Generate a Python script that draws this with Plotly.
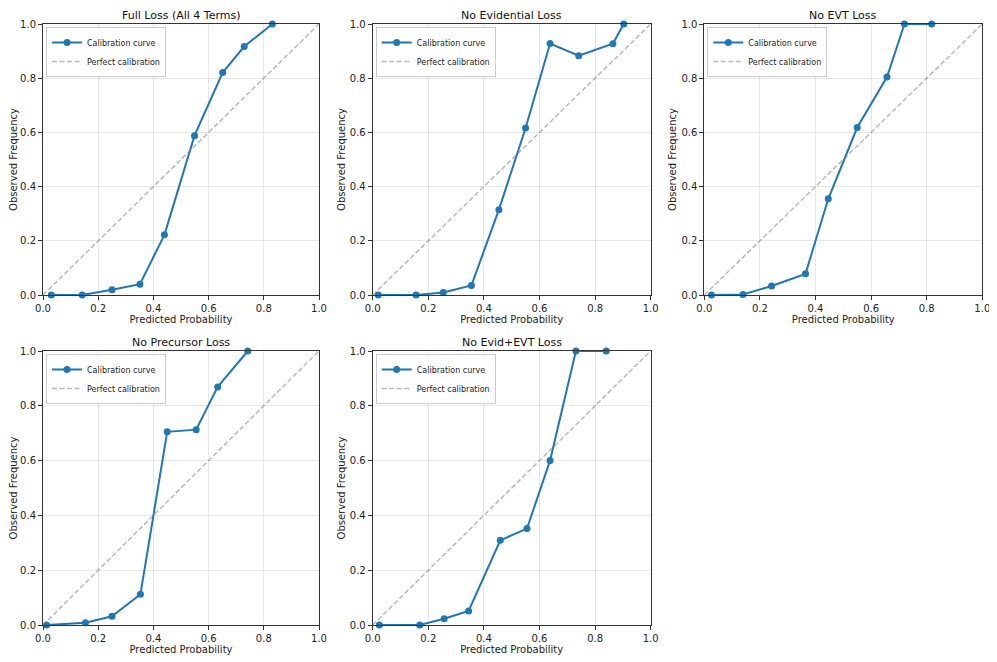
import plotly.graph_objects as go

titles = ["Full Loss (All 4 Terms)", "No Evidential Loss", "No EVT Loss",
          "No Precursor Loss", "No Evid+EVT Loss"]

full_x = [0.030, 0.142, 0.250, 0.351, 0.440, 0.549, 0.651, 0.729, 0.831]
full_y = [0.000, 0.000, 0.019, 0.040, 0.222, 0.588, 0.821, 0.917, 1.000]

noevid_x = [0.020, 0.156, 0.254, 0.355, 0.454, 0.550, 0.638, 0.741, 0.864, 0.903]
noevid_y = [0.000, 0.000, 0.009, 0.035, 0.315, 0.616, 0.928, 0.883, 0.927, 1.000]

noevt_x = [0.026, 0.139, 0.242, 0.364, 0.446, 0.550, 0.657, 0.720, 0.818]
noevt_y = [0.000, 0.002, 0.033, 0.078, 0.355, 0.618, 0.804, 1.000, 1.000]

noprec_x = [0.013, 0.154, 0.250, 0.353, 0.450, 0.555, 0.633, 0.742]
noprec_y = [0.000, 0.008, 0.032, 0.112, 0.705, 0.713, 0.869, 1.000]

noboth_x = [0.024, 0.169, 0.257, 0.345, 0.459, 0.555, 0.638, 0.731, 0.840]
noboth_y = [0.000, 0.000, 0.023, 0.051, 0.309, 0.352, 0.600, 1.000, 1.000]

series = [(full_x, full_y), (noevid_x, noevid_y), (noevt_x, noevt_y),
          (noprec_x, noprec_y), (noboth_x, noboth_y)]

perfect = [0.0, 1.0]
ticks = [0.0, 0.2, 0.4, 0.6, 0.8, 1.0]

# page body has an 8px margin; figure sized to the visible area
OFF = 8
W, H = 997 - OFF, 662 - OFF
def px_x(p):
    return (p - OFF) / W
def px_y(p):
    return 1 - (p - OFF) / H

xdoms = [(px_x(43), px_x(319)), (px_x(372.7), px_x(650.7)), (px_x(704.3), px_x(982.3))]
ydoms = [(px_y(295), px_y(24)), (px_y(625), px_y(351))]

BLUE = "#1f77b4"
FONT = "DejaVu Sans"
fig = go.Figure()
layout = dict(width=W, height=H, margin=dict(l=0, r=0, t=0, b=0, autoexpand=False),
              plot_bgcolor="white", paper_bgcolor="white",
              font=dict(family=FONT, size=10, color="#222"))
annotations = []

for i, (title, (xs, ys)) in enumerate(zip(titles, series)):
    r, c = divmod(i, 3)
    n = i + 1
    xa = "x" if n == 1 else f"x{n}"
    ya = "y" if n == 1 else f"y{n}"
    lg = "legend" if n == 1 else f"legend{n}"
    fig.add_trace(go.Scatter(x=xs, y=ys, mode="lines+markers", name="Calibration curve",
                             line=dict(color=BLUE, width=2), marker=dict(color=BLUE, size=7),
                             xaxis=xa, yaxis=ya, legend=lg, cliponaxis=False))
    fig.add_trace(go.Scatter(x=perfect, y=perfect, mode="lines", name="Perfect calibration",
                             line=dict(color="rgba(128,128,128,0.55)", width=1.5,
                                       dash="5px,2.5px"),
                             xaxis=xa, yaxis=ya, legend=lg))
    xd = xdoms[c]
    yd = ydoms[r]
    axcommon = dict(range=[0, 1], tickvals=ticks, tickformat=".1f", showline=True,
                    mirror=True, linecolor="#333", linewidth=1, ticks="outside",
                    ticklen=4, tickcolor="#333", showgrid=True, automargin=False,
                    gridcolor="rgba(176,176,176,0.3)", zeroline=False,
                    tickfont=dict(family=FONT, size=10, color="#222"))
    layout["xaxis" if n == 1 else f"xaxis{n}"] = dict(
        axcommon, domain=list(xd), anchor=ya,
        title=dict(text="Predicted Probability", font=dict(family=FONT, size=10), standoff=2))
    layout["yaxis" if n == 1 else f"yaxis{n}"] = dict(
        axcommon, domain=list(yd), anchor=xa,
        title=dict(text="Observed Frequency", font=dict(family=FONT, size=10), standoff=2))
    layout[lg] = dict(x=xd[0] + 3 / W, y=yd[1] - 3 / H, xanchor="left", yanchor="top",
                      bgcolor="rgba(255,255,255,0.85)", bordercolor="#cccccc", borderwidth=1,
                      font=dict(family=FONT, size=8, color="#222"), tracegroupgap=0,
                      itemwidth=30)
    annotations.append(dict(text=title, x=(xd[0] + xd[1]) / 2, y=yd[1], xref="paper",
                            yref="paper", xanchor="center", yanchor="bottom", yshift=0,
                            showarrow=False, font=dict(family=FONT, size=11, color="#111")))

layout["annotations"] = annotations
fig.update_layout(**layout)
fig.write_html("out.html")
